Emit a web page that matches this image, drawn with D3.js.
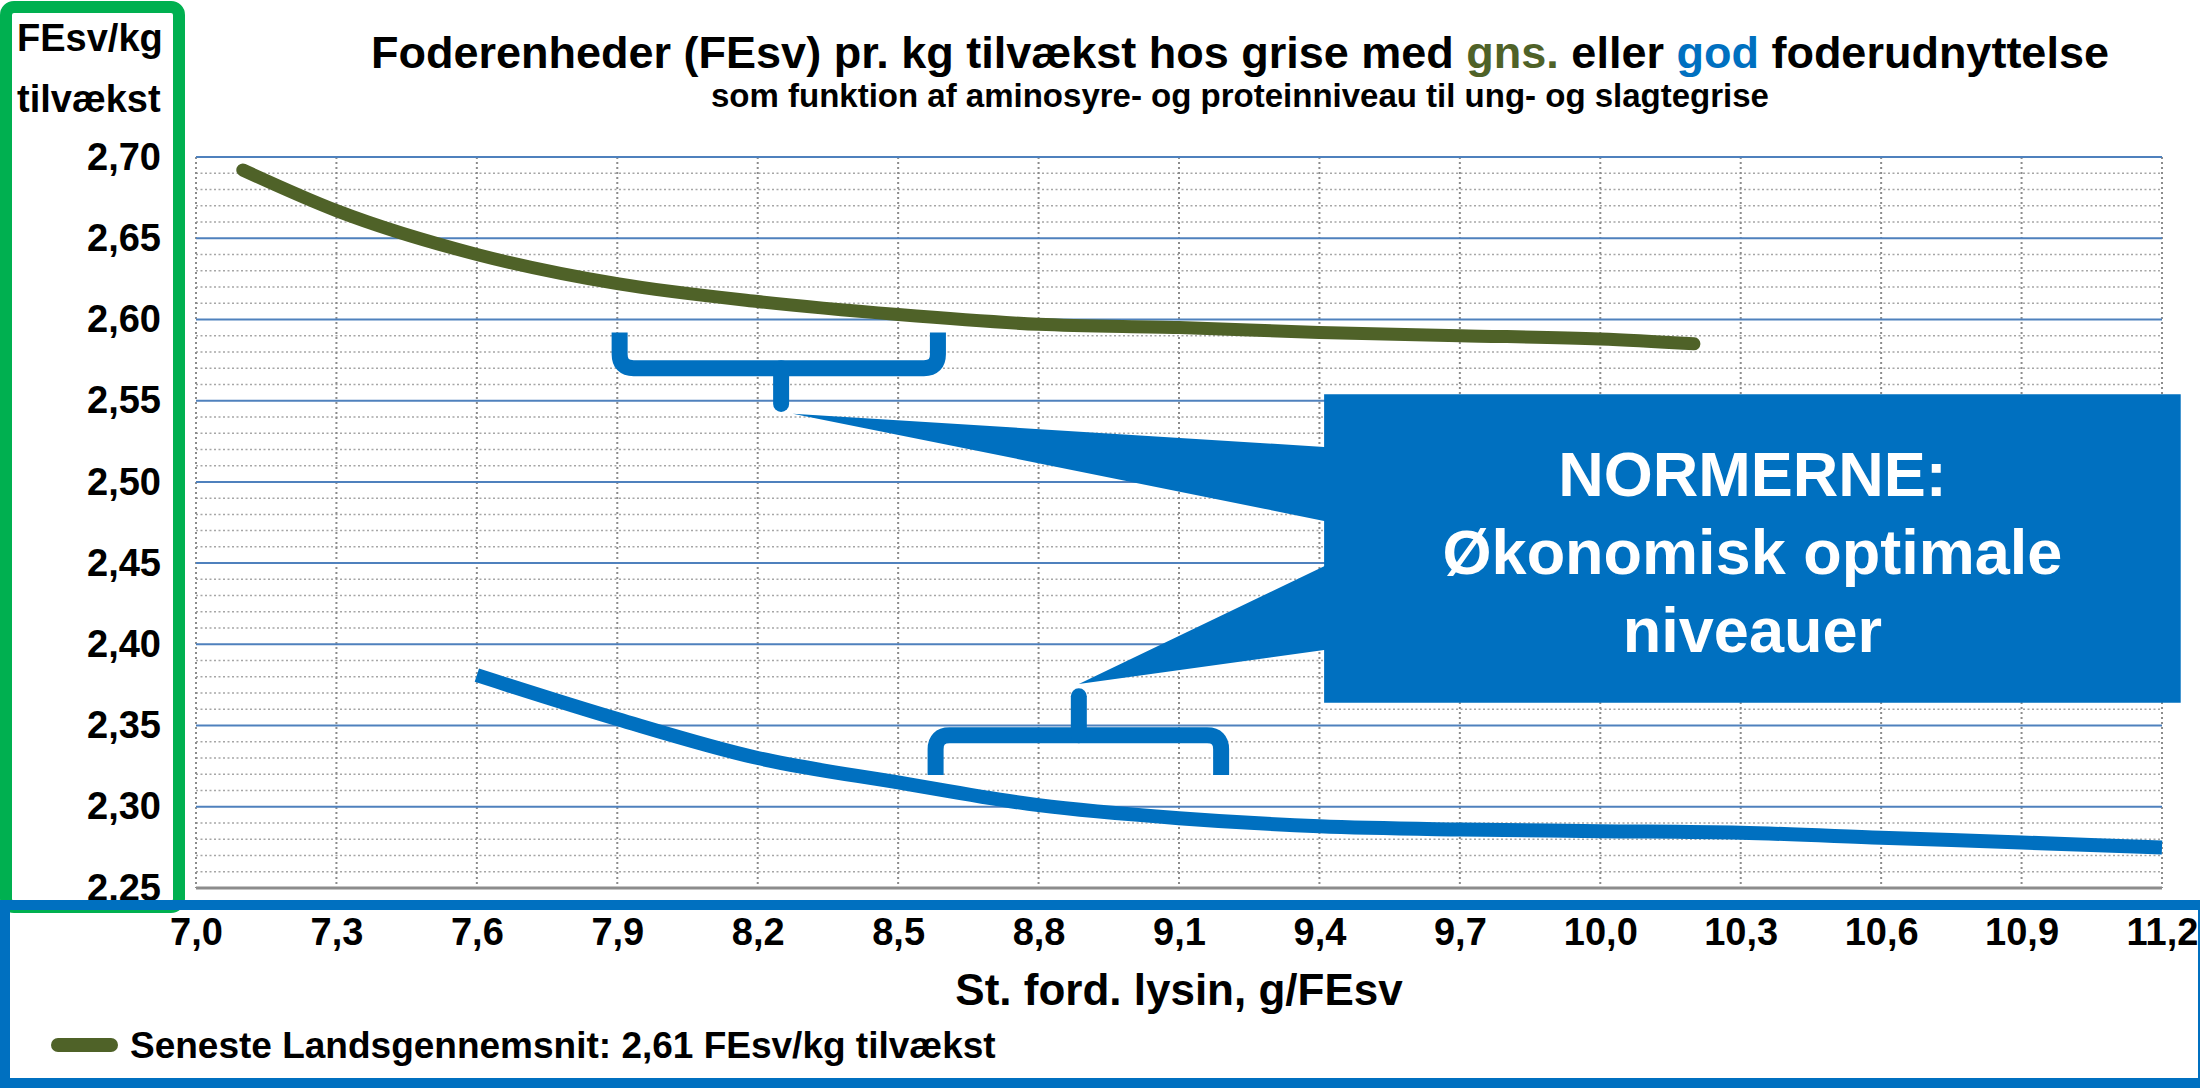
<!DOCTYPE html>
<html>
<head>
<meta charset="utf-8">
<script src="https://cdn.jsdelivr.net/npm/d3@7"></script>
<style>
  body { margin: 0; background: #fff; }
  svg { display: block; font-family: "Liberation Sans", Arial, sans-serif; font-weight: bold; }
</style>
</head>
<body>
<svg width="2200" height="1088"></svg>
<script>
// lysin (g/FEsv) and FEsv/kg tilvækst
var lysinGns = [7.1, 7.3, 7.6, 7.9, 8.2, 8.5, 8.8, 9.1, 9.4, 9.7, 10.0, 10.2];
var gns      = [2.692, 2.667, 2.640, 2.622, 2.611, 2.603, 2.597, 2.595, 2.592, 2.590, 2.588, 2.585];
var lysinGod = [7.6, 7.9, 8.2, 8.5, 8.8, 9.1, 9.4, 9.7, 10.0, 10.3, 10.6, 10.9, 11.2];
var god      = [2.381, 2.354, 2.330, 2.315, 2.301, 2.293, 2.288, 2.286, 2.285, 2.284, 2.281, 2.278, 2.275];

var xTicks = [7.0, 7.3, 7.6, 7.9, 8.2, 8.5, 8.8, 9.1, 9.4, 9.7, 10.0, 10.3, 10.6, 10.9, 11.2];
var yTicks = [2.25, 2.30, 2.35, 2.40, 2.45, 2.50, 2.55, 2.60, 2.65, 2.70];

// braces: [from, to, middle, arm end, bar, tip]
var braces = [
  [7.905, 8.585, 8.25, 2.592, 2.570, 2.548],
  [8.58, 9.19, 8.886, 2.3195, 2.344, 2.368]
];
// callout box [x0, x1, yTop, yBottom] and pointers [tipX, tipY, baseTop, baseBottom]
var callout = [9.41, 11.24, 2.554, 2.364];
var pointers = [
  [8.275, 2.542, 2.5215, 2.476],
  [8.886, 2.3756, 2.448, 2.3965]
];
var calloutLines = ["NORMERNE:", "Økonomisk optimale", "niveauer"];

var olive = "#4F6228", blue = "#0070C0", green = "#00B050";

var svg = d3.select("svg");
var x = d3.scaleLinear().domain([7, 11.2]).range([196, 2162]);
var y = d3.scaleLinear().domain([2.25, 2.70]).range([888, 157]);
var da = d3.formatLocale({decimal: ",", thousands: ".", grouping: [3], currency: ["", " kr"]});
var fx = da.format(".1f"), fy = da.format(".2f");

// minor grid every 0,01
var minor = d3.range(0, 46).map(function(i) { return 2.25 + i * 0.01; })
    .filter(function(v, i) { return i % 5 !== 0; });
svg.append("g").selectAll("line").data(minor).join("line")
    .attr("x1", x(7)).attr("x2", x(11.2))
    .attr("y1", d => y(d)).attr("y2", d => y(d))
    .attr("stroke", "#a6a6a6").attr("stroke-width", 1.5).attr("stroke-dasharray", "2,2.5");

svg.append("g").selectAll("line").data(xTicks).join("line")
    .attr("x1", d => x(d)).attr("x2", d => x(d))
    .attr("y1", y(2.70)).attr("y2", y(2.25))
    .attr("stroke", "#8c8c8c").attr("stroke-width", 2).attr("stroke-dasharray", "2,3");

svg.append("g").selectAll("line").data(yTicks.slice(1)).join("line")
    .attr("x1", x(7)).attr("x2", x(11.2))
    .attr("y1", d => y(d)).attr("y2", d => y(d))
    .attr("stroke", "#4F81BD").attr("stroke-width", 2);

svg.append("line")
    .attr("x1", x(7)).attr("x2", x(11.2)).attr("y1", y(2.25)).attr("y2", y(2.25))
    .attr("stroke", "#8c8c8c").attr("stroke-width", 3);

// axes
var yAxis = svg.append("g").attr("transform", "translate(161,0)")
    .call(d3.axisLeft(y).tickValues(yTicks).tickFormat(fy).tickSize(0).tickPadding(0));
yAxis.select(".domain").remove();
yAxis.selectAll("text").attr("font-size", 38).attr("font-family", null).attr("fill", "#000");

var xAxis = svg.append("g").attr("transform", "translate(0,918)")
    .call(d3.axisBottom(x).tickValues(xTicks).tickFormat(fx).tickSize(0).tickPadding(0));
xAxis.select(".domain").remove();
xAxis.selectAll("text").attr("font-size", 38).attr("font-family", null).attr("fill", "#000");

// curves
var line = d3.line().x(d => x(d[0])).y(d => y(d[1])).curve(d3.curveMonotoneX);
svg.append("path").datum(d3.zip(lysinGns, gns)).attr("d", line)
    .attr("fill", "none").attr("stroke", olive).attr("stroke-width", 13).attr("stroke-linecap", "round");
svg.append("path").datum(d3.zip(lysinGod, god)).attr("d", line)
    .attr("fill", "none").attr("stroke", blue).attr("stroke-width", 14).attr("stroke-linecap", "butt");

// braces
braces.forEach(function(b) {
  var x0 = x(b[0]), x1 = x(b[1]), xm = x(b[2]), ya = y(b[3]), yb = y(b[4]), yt = y(b[5]);
  var s = yb > ya ? 1 : -1, r = 14;
  svg.append("path")
      .attr("d", "M" + x0 + "," + ya + "L" + x0 + "," + (yb - s * r) +
        "Q" + x0 + "," + yb + " " + (x0 + r) + "," + yb + "L" + (x1 - r) + "," + yb +
        "Q" + x1 + "," + yb + " " + x1 + "," + (yb - s * r) + "L" + x1 + "," + ya)
      .attr("fill", "none").attr("stroke", blue).attr("stroke-width", 16);
  svg.append("path")
      .attr("d", "M" + xm + "," + yb + "L" + xm + "," + yt)
      .attr("fill", "none").attr("stroke", blue).attr("stroke-width", 16).attr("stroke-linecap", "round");
});

// callout
var cx0 = x(callout[0]), cx1 = x(callout[1]), cy0 = y(callout[2]), cy1 = y(callout[3]);
var p1 = pointers[0], p2 = pointers[1];
var cpath = d3.path();
cpath.moveTo(cx0, cy0);
cpath.lineTo(cx1, cy0);
cpath.lineTo(cx1, cy1);
cpath.lineTo(cx0, cy1);
cpath.lineTo(cx0, y(p2[3]));
cpath.lineTo(x(p2[0]), y(p2[1]));
cpath.lineTo(cx0, y(p2[2]));
cpath.lineTo(cx0, y(p1[3]));
cpath.lineTo(x(p1[0]), y(p1[1]));
cpath.lineTo(cx0, y(p1[2]));
cpath.closePath();
svg.append("path").attr("d", cpath.toString()).attr("fill", blue);

svg.append("g").selectAll("text").data(calloutLines).join("text")
    .attr("x", (cx0 + cx1) / 2).attr("y", (d, i) => 496 + i * 78)
    .attr("text-anchor", "middle").attr("font-size", 63).attr("fill", "#fff")
    .text(d => d);

// titles
var title = svg.append("text").attr("x", 1240).attr("y", 68)
    .attr("text-anchor", "middle").attr("font-size", 45);
title.append("tspan").text("Foderenheder (FEsv) pr. kg tilvækst hos grise med ");
title.append("tspan").attr("fill", olive).text("gns.");
title.append("tspan").text(" eller ");
title.append("tspan").attr("fill", blue).text("god");
title.append("tspan").text(" foderudnyttelse");

svg.append("text").attr("x", 1240).attr("y", 107).attr("text-anchor", "middle")
    .attr("font-size", 33).text("som funktion af aminosyre- og proteinniveau til ung- og slagtegrise");

svg.append("text").attr("x", 17).attr("y", 51).attr("font-size", 38).text("FEsv/kg");
svg.append("text").attr("x", 17).attr("y", 112).attr("font-size", 38).text("tilvækst");

svg.append("text").attr("x", 1179).attr("y", 1005).attr("text-anchor", "middle")
    .attr("font-size", 44).text("St. ford. lysin, g/FEsv");

// frames
svg.append("rect").attr("x", 6).attr("y", 7).attr("width", 173).attr("height", 900)
    .attr("rx", 8).attr("fill", "none").attr("stroke", green).attr("stroke-width", 12);
svg.append("rect").attr("x", 5).attr("y", 905).attr("width", 2198).attr("height", 178)
    .attr("fill", "none").attr("stroke", blue).attr("stroke-width", 10);

// legend
svg.append("line").attr("x1", 58).attr("x2", 111).attr("y1", 1045).attr("y2", 1045)
    .attr("stroke", olive).attr("stroke-width", 14).attr("stroke-linecap", "round");
svg.append("text").attr("x", 130).attr("y", 1058).attr("font-size", 37)
    .text("Seneste Landsgennemsnit: 2,61 FEsv/kg tilvækst");
</script>
</body>
</html>
